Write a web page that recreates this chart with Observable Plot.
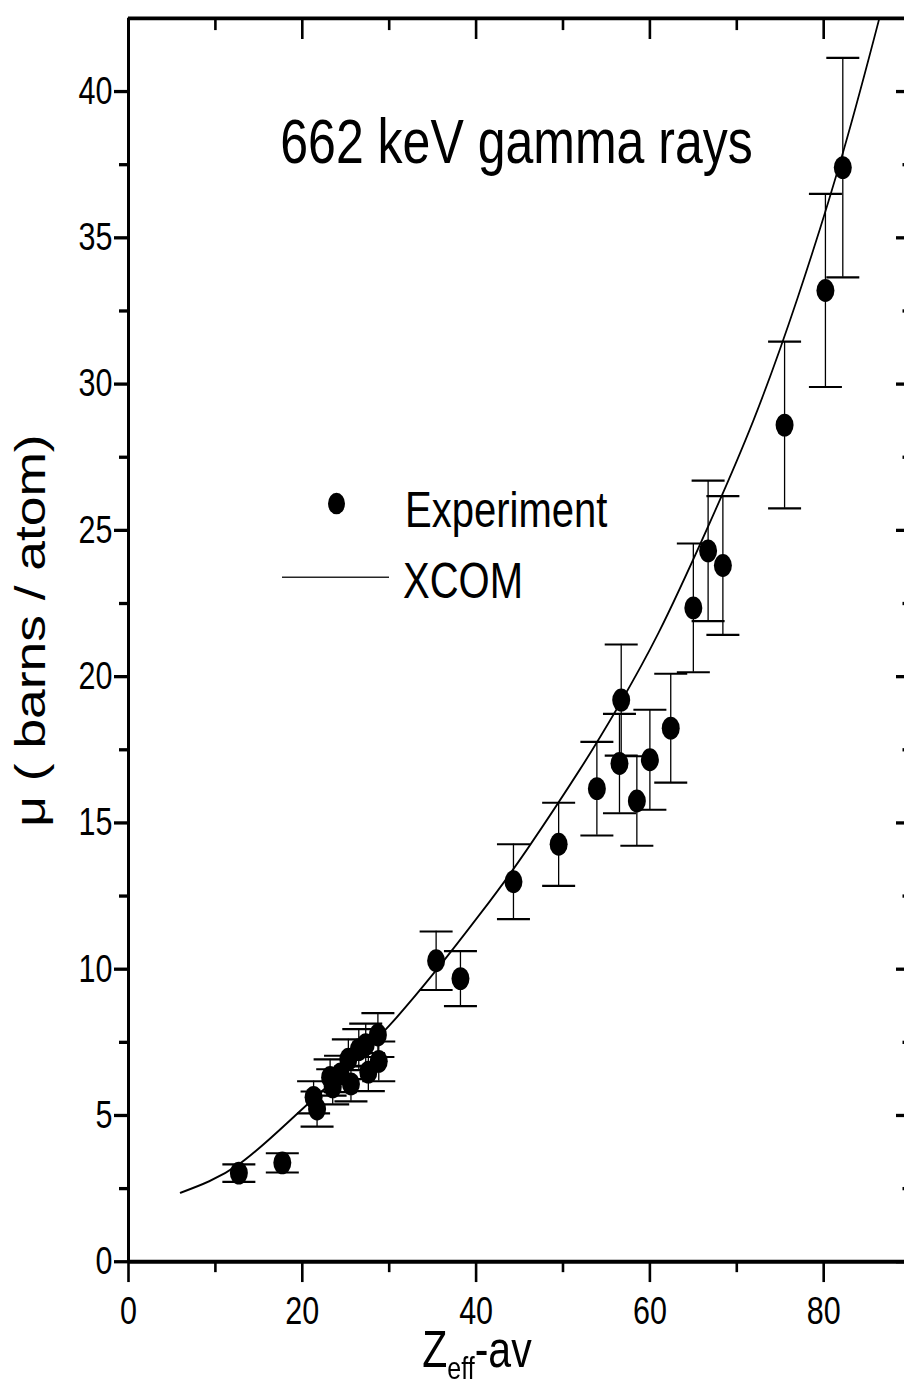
<!DOCTYPE html>
<html><head><meta charset="utf-8">
<script src="https://cdn.jsdelivr.net/npm/d3@7"></script>
<script src="https://cdn.jsdelivr.net/npm/@observablehq/plot@0.6"></script>
<style>
html,body{margin:0;padding:0;background:#fff;}
#wrap{position:relative;width:904px;height:1387px;overflow:hidden;background:#fff;}
#chart{position:relative;width:904px;height:1092px;transform-origin:0 0;transform:scaleY(1.27);}
.lg{position:absolute;font-family:'Liberation Sans',Arial,sans-serif;color:#000;line-height:1;white-space:nowrap;}
</style></head><body>
<div id="wrap"><div id="chart"></div></div>
<script>
// ---- data ----
const zeff  = [12.7, 17.7, 21.3, 21.7, 23.2, 23.5, 24.4, 25.3, 25.6, 26.5, 27.3, 27.6, 28.7, 28.8,
               35.4, 38.2, 44.3, 49.5, 53.9, 56.5, 56.7, 58.5, 60.0, 62.4, 65.0, 66.7, 68.4, 75.5, 80.2, 82.2];
const mu    = [3.03, 3.38, 5.62, 5.22, 6.30, 5.98, 6.42, 6.92, 6.08, 7.25, 7.42, 6.48, 7.75, 6.85,
               10.29, 9.68, 12.99, 14.27, 16.17, 17.03, 19.2, 15.75, 17.16, 18.24, 22.35, 24.3, 23.8, 28.6, 33.2, 37.4];
const muErr = [0.30, 0.33, 0.55, 0.60, 0.62, 0.60, 0.62, 0.68, 0.60, 0.70, 0.72, 0.65, 0.75, 0.68,
               1.0, 0.94, 1.28, 1.42, 1.6, 1.7, 1.9, 1.53, 1.71, 1.86, 2.2, 2.4, 2.37, 2.85, 3.3, 3.75];

const xcomZ  = [6, 12.7, 20.4, 30.1, 40.5, 46, 52, 56.3, 61, 66.5, 71.9, 77, 82.3, 86.4, 87.2];
const xcomMu = [2.36, 3.33, 5.33, 8.1, 11.9, 14.15, 16.85, 18.95, 21.5, 25.0, 28.75, 32.95, 38.0, 42.5, 43.4];

const xMajorTicks = [0, 20, 40, 60, 80];
const xMinorTicks = [10, 30, 50, 70];
const yMajorTicks = [0, 5, 10, 15, 20, 25, 30, 35, 40];
const yMinorTicks = [2.5, 7.5, 12.5, 17.5, 22.5, 27.5, 32.5, 37.5];

const titleText = "662 keV gamma rays";
const yLabelText = "\u03bc ( barns / atom)";
const legendLabels = ["Experiment", "XCOM"];

// ---- build ----
const points = zeff.map((x, i) => ({x, y: mu[i], e: muErr[i]}));
const xcom = xcomZ.map((x, i) => ({x, y: xcomMu[i]}));

const capSymbol = {draw(ctx, size) { const r = Math.sqrt(size / Math.PI); ctx.moveTo(-r, 0); ctx.lineTo(r, 0); }};

const FONT = "'Liberation Sans', Arial, Helvetica, sans-serif";
const TW = 2.6;

const plot = Plot.plot({
  width: 904, height: 1092,
  marginLeft: 128, marginRight: 0, marginTop: 14, marginBottom: 99,
  x: {domain: [0, 89.3]},
  y: {domain: [0, 42.5]},
  style: {fontFamily: FONT, color: "black", background: "white", overflow: "visible"},
  marks: [
    Plot.line(xcom, {x: "x", y: "y", curve: "natural", stroke: "black", strokeWidth: 1.7, clip: true}),
    Plot.ruleX(points, {x: "x", y1: d => d.y - d.e, y2: d => d.y + d.e, stroke: "black", strokeWidth: 1.3}),
    Plot.dot(points, {x: "x", y: d => d.y + d.e, symbol: capSymbol, r: 16.5, stroke: "black", fill: "none", strokeWidth: 1.7}),
    Plot.dot(points, {x: "x", y: d => d.y - d.e, symbol: capSymbol, r: 16.5, stroke: "black", fill: "none", strokeWidth: 1.7}),
    Plot.dot(points, {x: "x", y: "y", r: 9, fill: "black", stroke: null}),
    // axes
    Plot.axisX(xMajorTicks, {anchor: "bottom", tickSize: 16.5, tickPadding: 11, fontSize: 30.5, label: null, strokeWidth: TW}),
    Plot.axisX(xMinorTicks, {anchor: "bottom", tickSize: 8.7, fill: "none", label: null, strokeWidth: TW}),
    Plot.axisX(xMajorTicks, {anchor: "top", tickSize: -15.7, fill: "none", label: null, strokeWidth: TW}),
    Plot.axisX(xMinorTicks, {anchor: "top", tickSize: -8.7, fill: "none", label: null, strokeWidth: TW}),
    Plot.axisY(yMajorTicks, {anchor: "left", tickSize: 14, tickPadding: 2, fontSize: 30.5, label: null, strokeWidth: TW}),
    Plot.axisY(yMinorTicks, {anchor: "left", tickSize: 9, fill: "none", label: null, strokeWidth: TW}),
    Plot.axisY(yMajorTicks, {anchor: "right", tickSize: -9, fill: "none", label: null, strokeWidth: TW}),
    Plot.axisY(yMinorTicks, {anchor: "right", tickSize: -2.5, fill: "none", label: null, strokeWidth: TW}),
    // frame (left, bottom, top)
    Plot.ruleX([0], {stroke: "black", strokeWidth: 3}),
    Plot.ruleY([0], {stroke: "black", strokeWidth: 3}),
    Plot.ruleY([42.5], {stroke: "black", strokeWidth: 3}),
    // texts
    Plot.text([titleText], {frameAnchor: "top", dy: 98, fontSize: 50, lineAnchor: "middle", fill: "black"}),
    Plot.text([yLabelText], {frameAnchor: "left", textAnchor: "middle", dx: -97, dy: -7.5, rotate: -90, fontSize: 42, lineAnchor: "middle", fill: "black"})
  ]
});

const chart = document.getElementById("chart");
chart.appendChild(plot);

// x-axis label with subscript
const svg = d3.select(plot.tagName.toLowerCase() === "svg" ? plot : plot.querySelector("svg"));
const xl = svg.append("text")
  .attr("x", 477).attr("y", 1076)
  .attr("text-anchor", "middle")
  .attr("font-family", FONT)
  .attr("fill", "black")
  .attr("font-size", 41);
xl.append("tspan").text("Z");
xl.append("tspan").attr("font-size", 25).attr("dy", 10).text("eff");
xl.append("tspan").attr("font-size", 41).attr("dy", -10).text("-av");

// legend (inside the plot frame)
function addDiv(css, text) {
  const d = document.createElement("div");
  d.className = "lg";
  d.style.cssText += css;
  if (text) d.textContent = text;
  chart.appendChild(d);
}
addDiv("left:328px;top:387.5px;width:17px;height:17px;border-radius:50%;background:#000;");
addDiv("left:405px;top:380.5px;font-size:40px;", legendLabels[0]);
addDiv("left:282px;top:453.5px;width:107px;height:1.6px;background:#000;");
addDiv("left:403px;top:437px;font-size:40px;", legendLabels[1]);
</script>
</body></html>
